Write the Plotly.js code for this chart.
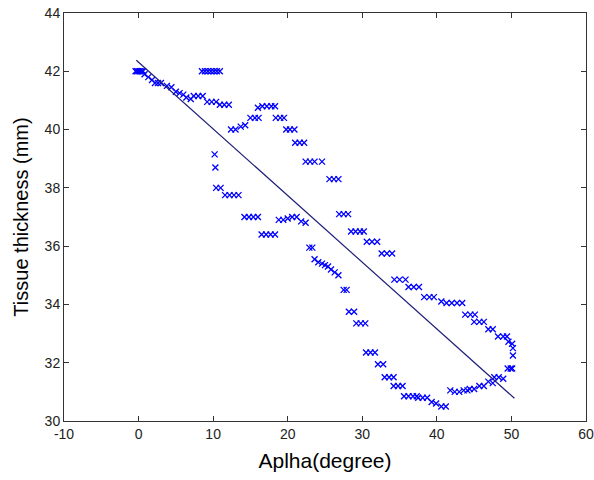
<!DOCTYPE html>
<html>
<head>
<meta charset="utf-8">
<script src="https://cdn.plot.ly/plotly-3.0.1.min.js"></script>
<style>html,body{margin:0;padding:0;background:#fff;}#chart{width:594px;height:480px;}</style>
</head>
<body>
<div id="chart"></div>
<script>
// Measured points (alpha in degree, tissue thickness in mm), following the loop
const alphaDeg = [
  -0.4,-0.2,0,0.2,0.4,0.6,
  0.8,1.3,1.8, 2.2,2.6,3.0, 3.8,4.4, 5.0,5.5,6.0, 6.4,7.0, 7.4,8.0,8.6,
  9.2,9.8,10.4, 10.9,11.5,12.1,
  8.5,8.9,9.3,9.7,10.1,10.5,10.9,
  12.4,13.0, 13.7,14.3, 15.0,15.6,16.1, 16.0,16.6,17.2,17.8,18.3,
  18.4,19.0,19.5, 19.8,20.3,20.9, 21.0,21.6,22.2, 22.4,23.0,23.6,24.6,
  25.6,26.2,26.8, 26.9,27.5,28.1, 28.5,29.1,29.7,30.2, 30.6,31.3,32.0,
  32.6,33.3,34.0, 34.3,35.0,35.8, 36.2,36.9,37.6, 38.3,39.0,39.6,
  40.6,41.3,42.0,42.7,43.4, 43.8,44.5,45.1, 45.0,45.7,46.3, 46.9,47.5,
  48.2,48.9,49.4, 49.6,50.1, 50.2, 50.2, 49.5,49.9,50.1,
  47.7,48.3,48.9, 46.9,47.5, 45.7,46.3, 44.4,45.0,
  41.8,42.4,43.0,43.6,44.1, 40.6,41.2, 39.3,39.9, 37.5,38.1,38.7,
  35.6,36.2,36.8,37.3, 34.2,34.8,35.4, 33.0,33.6,34.2, 32.1,32.8,
  30.5,31.1,31.7, 29.2,29.8,30.4, 28.2,28.9, 27.5,27.9,
  23.6,24.1,24.6,25.0,25.4,25.8,26.3,26.8, 22.9,23.3,
  18.8,19.4,20.0,20.6,21.2,21.8,22.4, 16.5,17.1,17.7,18.3,
  14.2,14.8,15.4,16.0, 11.6,12.2,12.8,13.4, 10.4,11.0, 10.3, 10.2
];
const thickness = [
  42,42,42,42,42,42,
  41.9,41.8,41.7, 41.6,41.6,41.6, 41.5,41.45, 41.3,41.25,41.2, 41.1,41.05, 41.15,41.15,41.15,
  40.95,40.95,40.95, 40.85,40.85,40.85,
  42,42,42,42,42,42,42,
  40.0,40.0, 40.1,40.15, 40.4,40.4,40.4, 40.75,40.8,40.8,40.8,40.8,
  40.4,40.4,40.4, 40.0,40.0,40.0, 39.55,39.55,39.55, 38.9,38.9,38.9,38.9,
  38.3,38.3,38.3, 37.1,37.1,37.1, 36.5,36.5,36.5,36.5, 36.15,36.15,36.15,
  35.75,35.75,35.75, 34.85,34.85,34.85, 34.6,34.6,34.6, 34.25,34.25,34.25,
  34.1,34.05,34.05,34.05,34.05, 33.65,33.65,33.65, 33.4,33.4,33.4, 33.15,33.15,
  32.9,32.9,32.9, 32.72,32.65, 32.5, 32.25, 31.8,31.8,31.8,
  31.5,31.5,31.45, 31.35,31.3, 31.2,31.2, 31.1,31.1,
  31.05,31.0,31.0,31.05,31.05, 30.5,30.5, 30.65,30.6, 30.8,30.8,30.8,
  30.85,30.85,30.85,30.85, 31.2,31.2,31.2, 31.5,31.5,31.5, 31.95,31.95,
  32.35,32.35,32.35, 33.35,33.35,33.35, 33.75,33.75, 34.5,34.5,
  35.55,35.45,35.4,35.35,35.3,35.2,35.1,35.0, 35.95,35.95,
  36.9,36.9,36.95,37.0,37.0,36.85,36.8, 36.4,36.4,36.4,36.4,
  37.0,37.0,37.0,37.0, 37.75,37.75,37.75,37.75, 38.0,38.0, 38.7, 39.15
];
// Linear fit line end points
const fitAlpha = [-0.3, 50.4];
const fitThickness = [42.38, 30.78];

const xTicks = [-10, 0, 10, 20, 30, 40, 50, 60];
const yTicks = [30, 32, 34, 36, 38, 40, 42, 44];

const tickFont = {family: 'Liberation Sans, Arial, sans-serif', size: 14, color: '#222'};
const xTitleFont = {family: 'Liberation Sans, Arial, sans-serif', size: 21, color: '#000'};
const yTitleFont = {family: 'Liberation Sans, Arial, sans-serif', size: 20, color: '#000'};

const traces = [
  {
    x: alphaDeg, y: thickness, type: 'scatter', mode: 'markers',
    marker: {symbol: 'x-thin-open', size: 6, color: '#0000ff', line: {width: 1.3, color: '#0000ff'}},
    hoverinfo: 'x+y'
  },
  {
    x: fitAlpha, y: fitThickness, type: 'scatter', mode: 'lines',
    line: {color: '#1e1e78', width: 1.2}
  }
];

const axisCommon = {
  showgrid: false, zeroline: false, showline: true, linecolor: '#333', linewidth: 1,
  mirror: 'ticks', ticks: 'inside', ticklen: 5, tickcolor: '#333', tickwidth: 1,
  tickfont: tickFont
};

const layout = {
  width: 594, height: 480,
  margin: {l: 64, r: 8, t: 13, b: 59},
  paper_bgcolor: '#fff', plot_bgcolor: '#fff',
  showlegend: false,
  xaxis: Object.assign({}, axisCommon, {
    range: [-10, 60], tickvals: xTicks, ticktext: xTicks.map(String),
    title: {text: 'Aplha(degree)', font: xTitleFont, standoff: 12}
  }),
  yaxis: Object.assign({}, axisCommon, {
    range: [30, 44], tickvals: yTicks, ticktext: yTicks.map(String),
    title: {text: 'Tissue thickness (mm)', font: yTitleFont, standoff: 10}
  })
};

Plotly.newPlot('chart', traces, layout, {displayModeBar: false, staticPlot: true});
</script>
</body>
</html>
